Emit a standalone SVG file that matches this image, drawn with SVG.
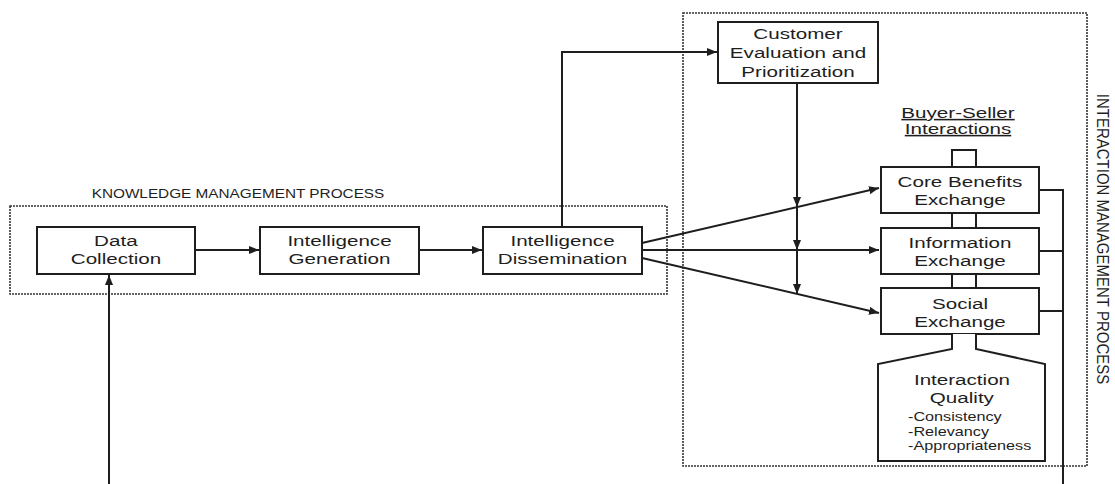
<svg xmlns="http://www.w3.org/2000/svg" width="1115" height="484" viewBox="0 0 1115 484">
<style>
.bg{fill:#ffffff}
.box{fill:#ffffff;stroke:#1e1e1e;stroke-width:2}
.dot{fill:none;stroke:#333;stroke-width:1.6;stroke-dasharray:2 1}
.ln{fill:none;stroke:#1e1e1e;stroke-width:2}
.t{font-family:"Liberation Sans",Arial,sans-serif;font-size:15.5px;fill:#1e1e1e;text-anchor:middle;transform-box:fill-box;transform-origin:center;transform:scaleX(1.33)}
.l{font-family:"Liberation Sans",Arial,sans-serif;font-size:12px;fill:#1e1e1e;text-anchor:start;transform-box:fill-box;transform-origin:left center;transform:scaleX(1.35)}
.h{font-family:"Liberation Sans",Arial,sans-serif;font-size:13px;fill:#1e1e1e;text-anchor:middle;transform-box:fill-box;transform-origin:center;transform:scaleX(1.18)}
.u{text-decoration:underline}
</style>
<defs>
<marker id="ah" markerUnits="userSpaceOnUse" markerWidth="10" markerHeight="8" refX="10" refY="4" orient="auto">
<path d="M0,0 L10,4 L0,8 z" fill="#1e1e1e"/>
</marker>
</defs>
<rect class="bg" x="0" y="0" width="1115" height="484"/>

<g id="kmp-frame">
<rect class="dot" x="10" y="206" width="657" height="88"/>
<text class="h" x="238" y="198">KNOWLEDGE MANAGEMENT PROCESS</text>
</g>
<g id="imp-frame">
<rect class="dot" x="683" y="13" width="404" height="453"/>
<text font-family="Liberation Sans, Arial, sans-serif" font-size="15" fill="#1e1e1e" text-anchor="middle" transform="translate(1097,239) rotate(90) scale(1,1.15)">INTERACTION MANAGEMENT PROCESS</text>
</g>

<g id="connectors">
<line class="ln" x1="109" y1="484" x2="109" y2="275" marker-end="url(#ah)"/>
<line class="ln" x1="195" y1="250" x2="259" y2="250" marker-end="url(#ah)"/>
<line class="ln" x1="419" y1="250" x2="482" y2="250" marker-end="url(#ah)"/>
<polyline class="ln" points="562,227 562,52 717,52" marker-end="url(#ah)"/>
<line class="ln" x1="642" y1="243" x2="879" y2="188" marker-end="url(#ah)"/>
<line class="ln" x1="642" y1="250" x2="879" y2="250" marker-end="url(#ah)"/>
<line class="ln" x1="642" y1="258" x2="879" y2="313" marker-end="url(#ah)"/>
<line class="ln" x1="797" y1="83" x2="797" y2="207" marker-end="url(#ah)"/>
<line class="ln" x1="797" y1="207" x2="797" y2="250" marker-end="url(#ah)"/>
<line class="ln" x1="797" y1="250" x2="797" y2="294" marker-end="url(#ah)"/>
<polyline class="ln" points="1039,190 1063,190 1063,484"/>
<line class="ln" x1="1039" y1="251" x2="1063" y2="251"/>
<line class="ln" x1="1039" y1="311" x2="1063" y2="311"/>
<polyline class="ln" points="952,167 952,150 976,150 976,167"/>
<line class="ln" x1="952" y1="213" x2="952" y2="228"/>
<line class="ln" x1="976" y1="213" x2="976" y2="228"/>
<line class="ln" x1="952" y1="274" x2="952" y2="288"/>
<line class="ln" x1="976" y1="274" x2="976" y2="288"/>
</g>

<g id="data-collection">
<rect class="box" x="37" y="227" width="158" height="47"/>
<text class="t" x="116" y="246">Data</text>
<text class="t" x="116" y="264">Collection</text>
</g>
<g id="intelligence-generation">
<rect class="box" x="260" y="227" width="159" height="47"/>
<text class="t" x="339.5" y="246">Intelligence</text>
<text class="t" x="339.5" y="264">Generation</text>
</g>
<g id="intelligence-dissemination">
<rect class="box" x="483" y="227" width="159" height="47"/>
<text class="t" x="562.5" y="246">Intelligence</text>
<text class="t" x="562.5" y="264">Dissemination</text>
</g>
<g id="customer-evaluation">
<rect class="box" x="718" y="22" width="160" height="61"/>
<text class="t" x="798" y="39">Customer</text>
<text class="t" x="798" y="58">Evaluation and</text>
<text class="t" x="798" y="77">Prioritization</text>
</g>
<g id="buyer-seller-label">
<text class="t u" x="958" y="118">Buyer-Seller</text>
<text class="t u" x="958" y="134">Interactions</text>
</g>
<g id="core-benefits">
<rect class="box" x="881" y="167" width="158" height="46"/>
<text class="t" x="960" y="187">Core Benefits</text>
<text class="t" x="960" y="205">Exchange</text>
</g>
<g id="information-exchange">
<rect class="box" x="881" y="228" width="158" height="46"/>
<text class="t" x="960" y="248">Information</text>
<text class="t" x="960" y="266">Exchange</text>
</g>
<g id="social-exchange">
<rect class="box" x="881" y="288" width="158" height="46"/>
<text class="t" x="960" y="309">Social</text>
<text class="t" x="960" y="327">Exchange</text>
</g>
<g id="interaction-quality">
<path class="box" d="M952,334 V349 L878,364 V461 H1045 V364 L976,349 V334"/>
<text class="t" x="962" y="385">Interaction</text>
<text class="t" x="962" y="403">Quality</text>
<text class="l" x="908" y="421">-Consistency</text>
<text class="l" x="908" y="436">-Relevancy</text>
<text class="l" x="908" y="450">-Appropriateness</text>
</g>
</svg>
